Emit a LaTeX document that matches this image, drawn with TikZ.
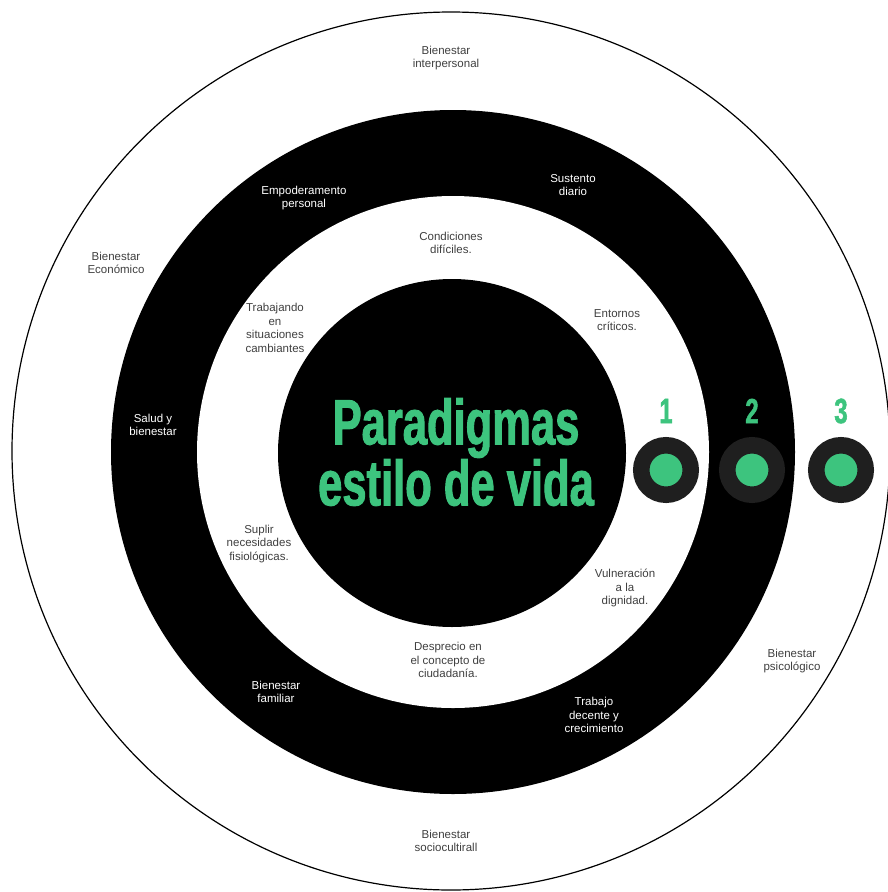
\documentclass[tikz,border=0pt]{standalone}
\usepackage{fontspec}
\setmainfont{Liberation Sans}
\newfontfamily\estrecha{Liberation Sans}[FakeStretch=0.68, BoldFeatures={FakeBold=1.5}]
\definecolor{verde}{RGB}{61,196,126}
\definecolor{gris}{RGB}{31,31,31}
\definecolor{texto}{RGB}{64,64,64}
\tikzset{
  etiqueta/.style={align=center, font=\fontsize{11.5}{13.5}\selectfont, text=texto, inner sep=0pt},
  etiquetab/.style={etiqueta, text=white},
  marca/.style={circle, fill=verde, draw=gris, line width=16.5pt, minimum size=49.5pt, inner sep=0pt},
  numero/.style={font=\estrecha\bfseries\fontsize{35}{35}\selectfont, text=verde, inner sep=0pt}
}
\begin{document}
\begin{tikzpicture}[x=1pt, y=-1pt]
	\useasboundingbox (0,0) rectangle (888,892);
	\fill[white] (0,0) rectangle (888,892);
	\draw[line width=1.2pt] (451,451) circle (439pt);
	\fill[black] (453,452) circle (342pt);
	\fill[white] (453,452) circle (256pt);
	\fill[black] (452,453) circle (174pt);
	\node [etiqueta] (interpersonal) at (446,58) {Bienestar\\interpersonal};
	\node [etiquetab] (sustento) at (573,185) {Sustento\\diario};
	\node [etiquetab] (empoderamiento) at (304,198) {Empoderamento\\personal};
	\node [etiqueta] (condiciones) at (451,243) {Condiciones\\difíciles.};
	\node [etiqueta] (economico) at (116,263) {Bienestar\\Económico};
	\node [etiqueta] (trabajando) at (275,328) {Trabajando\\en\\situaciones\\cambiantes};
	\node [etiqueta] (entornos) at (617,320) {Entornos\\críticos.};
	\node [etiquetab] (salud) at (153,425) {Salud y\\bienestar};
	\node [etiqueta] (suplir) at (259,544) {Suplir\\necesidades\\fisiológicas.};
	\node [etiqueta] (vulneracion) at (625,588) {Vulneración\\a la\\dignidad.};
	\node [etiqueta] (desprecio) at (448,660) {Desprecio en\\el concepto de\\ciudadanía.};
	\node [etiquetab] (familiar) at (276,692) {Bienestar\\familiar};
	\node [etiquetab] (trabajo) at (594,715) {Trabajo\\decente y\\crecimiento};
	\node [etiqueta] (psicologico) at (792,661) {Bienestar\\psicológico};
	\node [etiqueta] (sociocultural) at (446,841) {Bienestar\\sociocultirall};
	\node [align=center, text=verde, inner sep=0pt,
	       font=\estrecha\bfseries\fontsize{64}{61}\selectfont] (titulo) at (456,452)
	       {Paradigmas\\estilo de vida};
	\node [marca] (m1) at (666,470) {};
	\node [marca] (m2) at (752,470) {};
	\node [marca] (m3) at (841,470) {};
	\node [numero] (n1) at (666,411) {1};
	\node [numero] (n2) at (752,411) {2};
	\node [numero] (n3) at (841,411) {3};
\end{tikzpicture}
\end{document}
